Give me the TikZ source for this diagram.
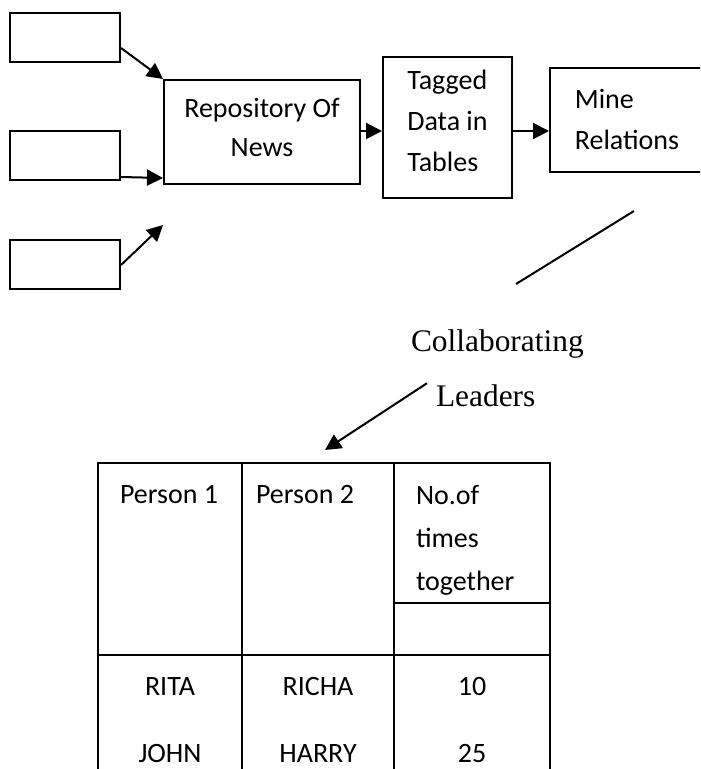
\documentclass[tikz,border=0pt]{standalone}
\usepackage{fontspec}
\setmainfont{Carlito}
\newfontfamily\seriffont{Liberation Serif}
\usetikzlibrary{arrows.meta}

\begin{document}
\begin{tikzpicture}[x=0.5pt, y=-0.5pt, line width=1pt,
  source/.style = {shape=rectangle, draw, minimum width=55pt, minimum height=24.5pt},
  stage/.style = {shape=rectangle, draw},
  stagetext/.style = {align=left, inner sep=0pt, font=\fontsize{14}{20.5}\selectfont},
  flow/.style = {-{Triangle[length=8pt,width=8pt]}},
  note/.style = {anchor=base west, inner sep=0pt,
    font=\seriffont\fontsize{15.7}{18}\selectfont},
  cell/.style = {anchor=north west, inner sep=0pt, align=left,
    font=\fontsize{14}{21.5}\selectfont},
  entry/.style = {anchor=base, inner sep=0pt, font=\fontsize{14}{17}\selectfont}]
  \useasboundingbox (0,0) rectangle (700,769);
  \clip (0,0) rectangle (700,769);

  % news sources and the pipeline
  \node[source] (src1) at (65,38) {};
  \node[source] (src2) at (65,156) {};
  \node[source] (src3) at (65,265) {};
  \node[stage, minimum width=98pt, minimum height=52pt,
    label={[stagetext, align=center, yshift=2.5pt,
      font=\fontsize{14}{19.5}\selectfont]center:Repository Of\\News}] (repo) at (262,132) {};
  \node[stage, minimum width=64.5pt, minimum height=70.5pt,
    label={[stagetext, yshift=3.5pt]center:Tagged\\Data in\\Tables}] (tagged) at (447.5,127.5) {};
  \node[stage, minimum width=77pt, minimum height=52pt,
    label={[stagetext, yshift=0.5pt]center:Mine\\Relations}] (mine) at (627,120) {};
  \coordinate (feed) at ([yshift=-20pt]repo.south west);

  \draw[flow] ([yshift=-5pt]src1.east) -- (repo.north west);
  \draw[flow] ([yshift=-10.5pt]src2.east) -- ([yshift=3.5pt]repo.south west);
  \draw[flow] (src3.east) -- (feed);
  \draw[flow] ([yshift=0.5pt]repo.east) -- ([yshift=0.5pt]repo.east -| tagged.west);
  \draw[flow] ([yshift=-1.75pt]tagged.east) -- ([yshift=-1.75pt]tagged.east -| mine.west);

  % stray stroke under the last stage
  \coordinate (tick a) at (634,211);
  \coordinate (tick b) at (516,284);
  \draw (tick a) -- (tick b);

  \node[note] (collab) at (410,351) {Collaborating};
  \node[note] (lead) at (435,406) {Leaders};
  \coordinate (table top) at (325,450);
  \draw[flow] ([xshift=-4pt]lead.north west) -- (table top);

  % result table
  \draw (98,780) -- (98,463) -- (550,463) -- (550,780);
  \draw (242,463) -- (242,780);
  \draw (394,463) -- (394,780);
  \draw (98,655) -- (550,655);
  \draw (394,603) -- (550,603);

  \node[cell] (head1) at (119,484) {Person 1};
  \node[cell] (head2) at (255,484) {Person 2};
  \node[cell] (head3) at (415,484) {No.of\\times\\together};

  \node[entry] (rita) at (170,695) {RITA};
  \node[entry] (richa) at (318,695) {RICHA};
  \node[entry] (ten) at (472,695) {10};
  \node[entry] (john) at (170,762) {JOHN};
  \node[entry] (harry) at (318,762) {HARRY};
  \node[entry] (twentyfive) at (472,762) {25};
\end{tikzpicture}
\end{document}
